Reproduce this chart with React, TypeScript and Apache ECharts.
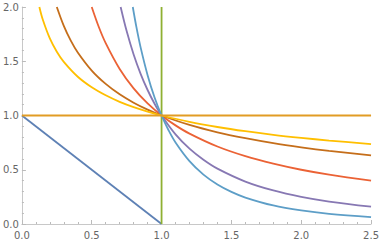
import React, { useEffect, useRef } from "react";
import * as echarts from "echarts";

const xTicks = [0, 0.5, 1, 1.5, 2, 2.5];
const yTicks = [0, 0.5, 1, 1.5, 2];

const lineDown: [number, number][] = [[0, 1], [1, 0]];
const lineFlat: [number, number][] = [[0, 1], [2.5, 1]];
const lineVert: [number, number][] = [[1, 0], [1, 2]];

const curveA: [number, number][] = [
  [0.125, 2.0], [0.15, 1.882], [0.2, 1.71], [0.25, 1.587], [0.3, 1.494], [0.4, 1.357],
  [0.5, 1.26], [0.6, 1.186], [0.7, 1.126], [0.8, 1.077], [0.9, 1.036], [1, 1],
  [1.2, 0.941], [1.4, 0.894], [1.6, 0.855], [1.8, 0.822], [2.0, 0.794], [2.2, 0.769], [2.5, 0.737],
];
const curveB: [number, number][] = [
  [0.25, 2.0], [0.3, 1.826], [0.35, 1.69], [0.4, 1.581], [0.5, 1.414], [0.6, 1.291],
  [0.7, 1.195], [0.8, 1.118], [0.9, 1.054], [1, 1], [1.2, 0.913], [1.4, 0.845],
  [1.6, 0.791], [1.8, 0.745], [2.0, 0.707], [2.2, 0.674], [2.5, 0.632],
];
const curveC: [number, number][] = [
  [0.5, 2.0], [0.55, 1.818], [0.6, 1.667], [0.7, 1.429], [0.8, 1.25], [0.9, 1.111],
  [1, 1], [1.1, 0.909], [1.2, 0.833], [1.4, 0.714], [1.6, 0.625], [1.8, 0.556],
  [2.0, 0.5], [2.2, 0.455], [2.5, 0.4],
];
const curveD: [number, number][] = [
  [0.707, 2.0], [0.75, 1.778], [0.8, 1.5625], [0.85, 1.384], [0.9, 1.235], [0.95, 1.108],
  [1, 1], [1.1, 0.826], [1.2, 0.694], [1.3, 0.592], [1.4, 0.51], [1.6, 0.391],
  [1.8, 0.309], [2.0, 0.25], [2.2, 0.207], [2.5, 0.16],
];
const curveE: [number, number][] = [
  [0.794, 2.0], [0.82, 1.814], [0.85, 1.628], [0.9, 1.372], [0.95, 1.166], [1, 1],
  [1.05, 0.864], [1.1, 0.751], [1.2, 0.579], [1.3, 0.455], [1.4, 0.364], [1.5, 0.296],
  [1.6, 0.244], [1.8, 0.171], [2.0, 0.125], [2.2, 0.094], [2.5, 0.064],
];

const seriesList: { data: [number, number][]; color: string; smooth: boolean }[] = [
  { data: lineDown, color: "#5E81B5", smooth: false },
  { data: lineVert, color: "#8FB032", smooth: false },
  { data: curveC, color: "#EB6235", smooth: true },
  { data: curveD, color: "#8778B3", smooth: true },
  { data: curveB, color: "#C56E1A", smooth: true },
  { data: curveE, color: "#5D9EC7", smooth: true },
  { data: curveA, color: "#FFBF00", smooth: true },
  { data: lineFlat, color: "#E19C24", smooth: false },
];

export default function App() {
  const ref = useRef<HTMLDivElement>(null);
  useEffect(() => {
    if (!ref.current) return;
    const chart = echarts.init(ref.current, null, { renderer: "svg" });
    const axisCommon = {
      type: "value" as const,
      interval: 0.5,
      minorTick: { show: true, splitNumber: 5, length: 2, lineStyle: { color: "#bbbbbb", width: 1 } },
      axisTick: { show: true, inside: true, length: 4, lineStyle: { color: "#bbbbbb", width: 1 } },
      axisLine: { show: true, onZero: false, lineStyle: { color: "#c8c8c8", width: 1 } },
      splitLine: { show: false },
      minorSplitLine: { show: false },
      axisLabel: {
        color: "#666666",
        fontSize: 10,
        fontFamily: "DejaVu Sans",
        formatter: (v: number) => v.toFixed(1),
      },
    };
    chart.setOption({
      animation: false,
      grid: { left: 18, right: 9, top: 7, bottom: 21, containLabel: false },
      xAxis: {
        ...axisCommon,
        min: xTicks[0],
        max: xTicks[xTicks.length - 1],
        axisLabel: { ...axisCommon.axisLabel, margin: 6 },
      },
      yAxis: {
        ...axisCommon,
        min: yTicks[0],
        max: yTicks[yTicks.length - 1],
        axisLabel: { ...axisCommon.axisLabel, margin: 3 },
      },
      series: seriesList.map((s) => ({
        type: "line",
        data: s.data,
        smooth: s.smooth ? 0.35 : false,
        showSymbol: false,
        symbol: "none",
        clip: true,
        lineStyle: { color: s.color, width: 1.8 },
      })),
    });
    return () => chart.dispose();
  }, []);
  return <div ref={ref} style={{ width: 382, height: 245, position: "absolute", left: 0, top: 0 }} />;
}
